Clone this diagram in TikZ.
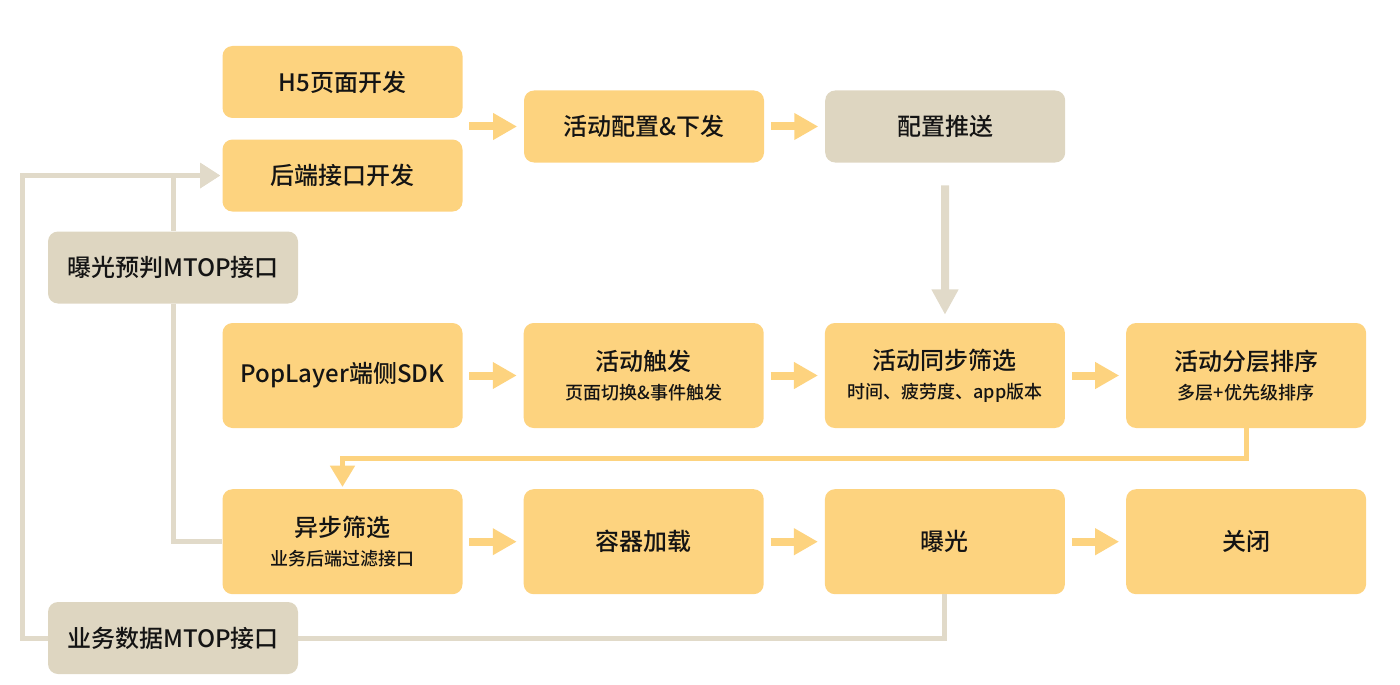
\documentclass[tikz,border=0pt]{standalone}
\usepackage{fontspec}
\setmainfont{Noto Sans CJK SC}[UprightFont=* Medium]
\usepackage{xcolor}
\usetikzlibrary{arrows.meta, positioning}

\definecolor{boxyellow}{RGB}{253,211,127}
\definecolor{boxtan}{RGB}{222,214,193}
\definecolor{linetan}{RGB}{225,218,201}
\definecolor{inkblack}{RGB}{20,20,20}
\newcommand{\subline}[1]{{\fontsize{13.5pt}{16pt}\selectfont #1}}

\begin{document}
\begin{tikzpicture}[
    x=0.75pt, y=-0.75pt,
    node distance=45.5pt,
    every node/.style={font=\fontsize{18pt}{22pt}\selectfont, text=inkblack},
    stage/.style={
        rectangle,
        rounded corners=7.5pt,
        fill=boxyellow,
        minimum width=180pt,
        minimum height=78.75pt,
        align=center,
        inner sep=0pt
    },
    flatstage/.style={
        stage,
        minimum height=54pt
    },
    service/.style={
        rectangle,
        rounded corners=7.5pt,
        fill=boxtan,
        minimum width=187.5pt,
        minimum height=54pt,
        align=center,
        inner sep=0pt
    },
    flow/.style={
        -{Triangle[length=18pt,width=19pt]},
        line width=6pt,
        draw=boxyellow,
        shorten <=5pt,
        shorten >=5pt
    },
    feed/.style={
        -{Triangle[length=19pt,width=19pt]},
        line width=6pt,
        draw=linetan,
        shorten <=17pt,
        shorten >=6pt
    },
    hook/.style={
        -{Triangle[length=16pt,width=18pt]},
        line width=3.75pt,
        draw=boxyellow,
        shorten >=1.5pt
    },
    relay/.style={
        -{Triangle[length=15pt,width=18pt]},
        line width=3.75pt,
        draw=linetan,
        shorten >=1.5pt
    },
    relayline/.style={
        line width=3.75pt,
        draw=linetan
    }
]
\useasboundingbox (0,0) rectangle (1400,685);

% top row
\node (h5) [flatstage] at (342.5,82) {H5页面开发};
\node (be) [flatstage, below=15.75pt of h5] {后端接口开发};
\node (cfg) [flatstage] at (644,126.5) {活动配置\&下发};
\node (push) [flatstage, fill=boxtan, right=of cfg] {配置推送};

% side services
\node (pre) [service] at (173,267.5) {曝光预判MTOP接口};
\node (biz) [service] at (173,638) {业务数据MTOP接口};

% client row
\node (sdk) [stage] at (342.5,375.5) {PopLayer端侧SDK};
\node (trig) [stage, right=of sdk] {活动触发\\\subline{页面切换\&事件触发}};
\node (sync) [stage, right=of trig] {活动同步筛选\\\subline{时间、疲劳度、app版本}};
\node (sort) [stage, right=of sync] {活动分层排序\\\subline{多层+优先级排序}};

% display row
\node (async) [stage, below=of sdk] {异步筛选\\\subline{业务后端过滤接口}};
\node (load) [stage, right=of async] {容器加载};
\node (expo) [stage, right=of load] {曝光};
\node (close) [stage, right=of expo] {关闭};

% main flow
\draw [flow] (h5.east |- cfg.west) -- (cfg.west);
\draw [flow] (cfg) -- (push);
\draw [feed] (push) -- (sync);
\draw [flow] (sdk) -- (trig);
\draw [flow] (trig) -- (sync);
\draw [flow] (sync) -- (sort);
\draw [hook] (sort.south) -- ++(0,30) -| (async.north);
\draw [flow] (async) -- (load);
\draw [flow] (load) -- (expo);
\draw [flow] (expo) -- (close);

% service links
\draw [relay] (pre.north) |- (be.west);
\draw [relayline] (pre.south) |- (async.west);
\draw [relayline] (expo.south) |- (biz.east);
\draw [relay] (biz.west) -- ++(-25,0) |- (be.west);

\end{tikzpicture}
\end{document}
